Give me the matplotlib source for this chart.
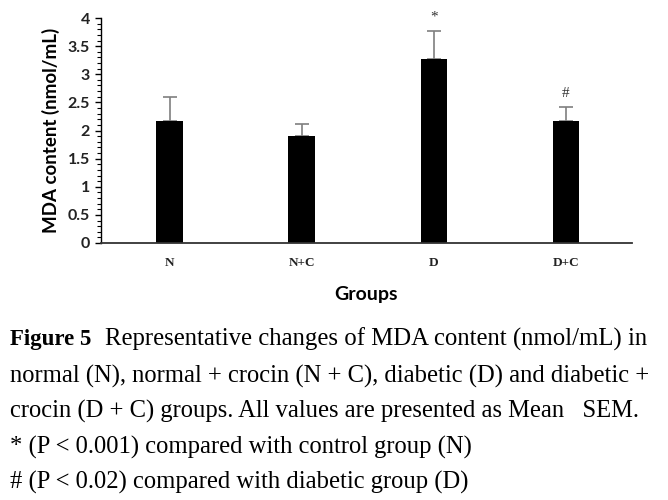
"""Bar chart of MDA content per group with caption."""

import matplotlib.pyplot as plt
from matplotlib.ticker import MultipleLocator

groups = ["N", "N+C", "D", "D+C"]
mda_mean = [2.16, 1.91, 3.27, 2.16]
mda_sem = [0.43, 0.20, 0.50, 0.25]
marks = ["", "", "*", "#"]

caption = [
    "normal (N), normal + crocin (N + C), diabetic (D) and diabetic +",
    "crocin (D + C) groups. All values are presented as Mean   SEM.",
    "* (P < 0.001) compared with control group (N)",
    "# (P < 0.02) compared with diabetic group (D)",
]

fig = plt.figure(figsize=(6.68, 5), dpi=100)
ax = fig.add_axes([0.151, 0.514, 0.795, 0.45])

x = range(len(groups))
ax.bar(x, mda_mean, width=0.2, color="black", zorder=2)
ax.errorbar(x, mda_mean, yerr=[[0] * len(groups), mda_sem], fmt="none",
            ecolor="#7f7f7f", elinewidth=1.2, capsize=5, capthick=1.2, zorder=1)
for xi, m, e, s in zip(x, mda_mean, mda_sem, marks):
    if s:
        ax.annotate(s, (xi, m + e), xytext=(0, 5), textcoords="offset points",
                    ha="center", va="bottom", fontsize=11,
                    family="Liberation Serif", color="#333333")

ax.set_xlim(-0.52, 3.5)
ax.set_ylim(0, 4)
ax.yaxis.set_major_locator(MultipleLocator(0.5))
ax.yaxis.set_minor_locator(MultipleLocator(0.1))
ax.set_yticklabels([f"{v:g}" for v in ax.get_yticks()])
ax.tick_params(axis="y", which="major", length=4, width=1, labelsize=11.5, pad=4)
ax.tick_params(axis="y", which="minor", length=3, width=0.8)
for lab in ax.get_yticklabels():
    lab.set_fontfamily("Lato")
    lab.set_fontweight("bold")
    lab.set_color("#222222")

ax.set_xticks(list(x))
ax.set_xticklabels(groups, family="Liberation Serif", fontweight="bold",
                   fontsize=9.5, color="#222222")
ax.tick_params(axis="x", length=0, pad=10)

ax.set_ylabel("MDA content (nmol/mL)", family="Lato", fontweight="bold",
              fontsize=13.5, labelpad=5)
ax.set_xlabel("Groups", family="Lato", fontweight="bold", fontsize=14,
              labelpad=12)

for side in ["top", "right"]:
    ax.spines[side].set_visible(False)
ax.spines["left"].set_linewidth(1)
ax.spines["bottom"].set_linewidth(1.3)
ax.spines["bottom"].set_color("#333333")

fig.text(0.015, 0.322, "Figure 5", family="Liberation Serif", fontweight="bold",
         fontsize=16.5, va="center")
fig.text(0.157, 0.322, "Representative changes of MDA content (nmol/mL) in",
         family="Liberation Serif", fontsize=17.8, va="center")
for i, line in enumerate(caption):
    fig.text(0.015, 0.248 - i * 0.071, line, family="Liberation Serif",
             fontsize=17.7, va="center")

fig.savefig("out.png", dpi=100)
